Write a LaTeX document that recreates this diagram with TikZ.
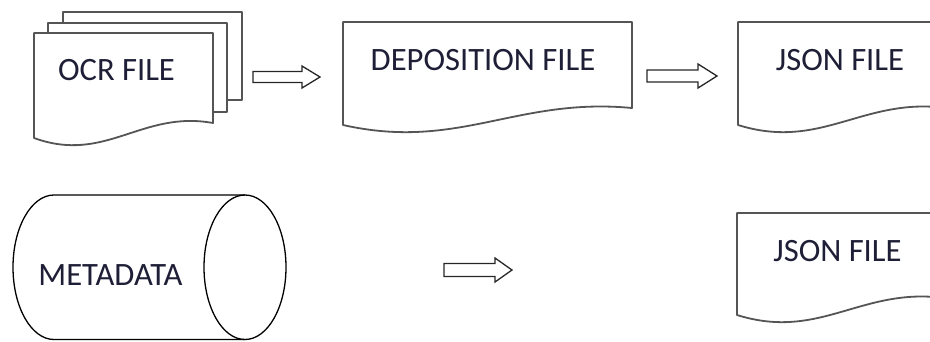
\documentclass[tikz,border=0pt]{standalone}
\usepackage{fontspec}
\setmainfont{Carlito}
\usepackage{tikz}
\definecolor{docline}{RGB}{85,85,85}
\definecolor{labeltext}{RGB}{30,30,55}
\tikzset{
  docshape/.style={draw=docline, line width=1.8pt, fill=white, line join=round},
  blockarrow/.style={draw=black!85, line width=1.3pt, line join=miter},
  drumshape/.style={draw=black, line width=1.3pt},
  labeltxt/.style={anchor=base, inner sep=0pt, text=labeltext, font=\fontsize{32.6}{38}\selectfont}
}

\begin{document}
\begin{tikzpicture}[x=1pt,y=1pt,yscale=-1,xscale=1]
\clip (0,0) rectangle (930,341); %keep the diagram at 930 x 341

%Shape: Multidocument [id:ocrstack]
\draw [docshape] (63,12) rectangle (242,100) ;
\draw [docshape] (48,23) rectangle (227,112) ;
\draw [docshape] (34,33) -- (213,33) -- (213,123) .. controls (141.4,110) and (105.6,164) .. (34,138) -- cycle ;

%Shape: Document [id:depofile]
\draw [docshape] (343,22) -- (632,22) -- (632,108) .. controls (516.4,97) and (458.6,151) .. (343,125) -- cycle ;

%Shape: Document [id:jsonfile1]
\draw [docshape] (738,22) -- (946,22) -- (946,108) .. controls (862.8,97) and (821.2,151) .. (738,125) -- cycle ;

%Shape: Document [id:jsonfile2]
\draw [docshape] (737,213) -- (944,213) -- (944,298) .. controls (861.2,287) and (819.8,341) .. (737,315) -- cycle ;

%Shape: Can [id:metadrum]
\draw [drumshape] (245,195) -- (54,195) arc (270:90:41 and 72.25) -- (245,339.5) ;
\draw [drumshape] (245,267.25) ellipse (41 and 72.25) ;

%Shape: Right Arrow [id:arrow1]
\draw [blockarrow] (253,71.5) -- (302,71.5) -- (302,66) -- (320,77) -- (302,88) -- (302,82.5) -- (253,82.5) -- cycle ;
%Shape: Right Arrow [id:arrow2]
\draw [blockarrow] (647,70) -- (698,70) -- (698,64) -- (717,76) -- (698,88) -- (698,82) -- (647,82) -- cycle ;
%Shape: Right Arrow [id:arrow3]
\draw [blockarrow] (444,263.5) -- (495,263.5) -- (495,258) -- (512,270) -- (495,282) -- (495,276.5) -- (444,276.5) -- cycle ;

% Text Node
\node [labeltxt] (ocr) at (116.5,80) {OCR FILE};
% Text Node
\node [labeltxt] (depo) at (483,70) {DEPOSITION FILE};
% Text Node
\node [labeltxt] (json1) at (840,70) {JSON FILE};
% Text Node
\node [labeltxt] (meta) at (110.5,285) {METADATA};
% Text Node
\node [labeltxt] (json2) at (837.5,261) {JSON FILE};

\end{tikzpicture}
\end{document}
